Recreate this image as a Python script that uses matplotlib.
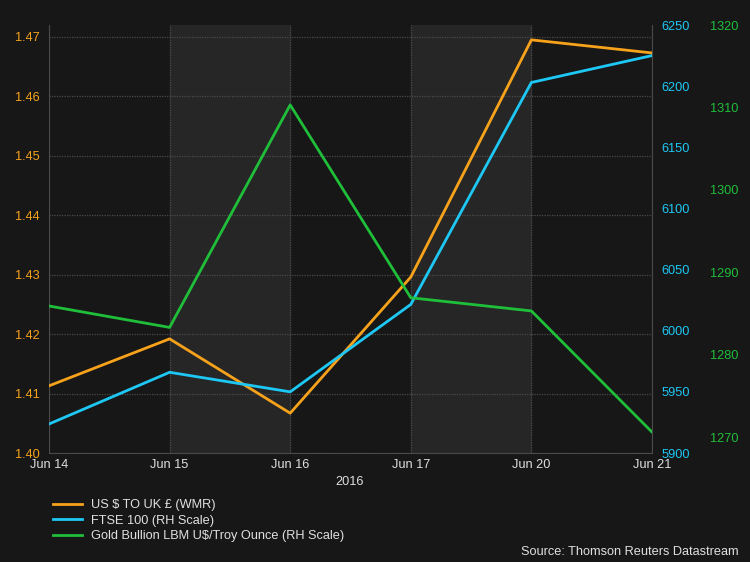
import matplotlib
matplotlib.use("Agg")
import matplotlib.pyplot as plt
import numpy as np

dates = ["Jun 14", "Jun 15", "Jun 16", "Jun 17", "Jun 20", "Jun 21"]
usd_gbp = [1.4113, 1.4192, 1.4067, 1.4296, 1.4695, 1.4673]
ftse = [5923.7, 5966.0, 5950.0, 6021.5, 6203.0, 6225.0]
gold = [1285.9, 1283.3, 1310.3, 1286.9, 1285.3, 1270.6]

bg = "#171717"
band = "#262626"
grid_c = "#4a4a4a"
txt_c = "#e0e0e0"
c_orange = "#f7a21b"
c_blue = "#1ec8f5"
c_green = "#1fbf3a"

plt.rcParams['font.family'] = ['Liberation Sans', 'DejaVu Sans']
fs = 9.2

fig = plt.figure(figsize=(7.5, 5.62), dpi=100, facecolor=bg)
ax = fig.add_axes((49/750, 1-453/562, (652-49)/750, (453-25)/562))
ax.set_facecolor(bg)
x = np.arange(len(dates))

# alternating shaded bands
for i in (1, 3):
    ax.axvspan(x[i], x[i+1], color=band, zorder=0)

ax.set_xlim(x[0], x[-1])
ax.set_ylim(1.40, 1.472)
ax.set_yticks([1.40, 1.41, 1.42, 1.43, 1.44, 1.45, 1.46, 1.47])
ax.set_yticklabels(["%.2f" % v for v in ax.get_yticks()])
ax.set_xticks(x)
ax.set_xticklabels(dates)
ax.grid(True, color=grid_c, linestyle=(0, (1, 1)), linewidth=0.9)
ax.tick_params(axis='y', colors=c_orange, labelsize=fs, length=0, pad=7)
ax.tick_params(axis='x', colors=txt_c, labelsize=fs, length=0, pad=4)
for s in ax.spines.values():
    s.set_color(grid_c)
ax.spines['top'].set_visible(False)

ax2 = ax.twinx()
ax2.set_ylim(5900, 6250)
ax2.set_yticks(np.arange(5900, 6251, 50))
ax2.tick_params(axis='y', colors=c_blue, labelsize=fs, length=0, pad=6.5)
for s in ax2.spines.values():
    s.set_visible(False)

ax3 = ax.twinx()
ax3.set_ylim(1268.06, 1320)
ax3.set_yticks(np.arange(1270, 1321, 10))
ax3.spines['right'].set_position(('outward', 36))
ax3.tick_params(axis='y', colors=c_green, labelsize=fs, length=0, pad=6)
for s in ax3.spines.values():
    s.set_visible(False)

l1, = ax.plot(x, usd_gbp, color=c_orange, lw=2, label="US $ TO UK £ (WMR)", zorder=3)
l2, = ax2.plot(x, ftse, color=c_blue, lw=2, label="FTSE 100 (RH Scale)", zorder=3)
l3, = ax3.plot(x, gold, color=c_green, lw=2, label="Gold Bullion LBM U$/Troy Ounce (RH Scale)", zorder=3)

fig.text(350/750, 1-482/562, "2016", color=txt_c, fontsize=fs, ha='center', va='center')

leg = fig.legend(handles=[l1, l2, l3], loc='upper left', bbox_to_anchor=(53/750, 1-499/562),
                 frameon=False, fontsize=fs, labelcolor=txt_c, handlelength=2.3,
                 handletextpad=0.65, labelspacing=0.28, borderpad=0, borderaxespad=0)

fig.text(739/750, 1-552/562, "Source: Thomson Reuters Datastream", color=txt_c,
         fontsize=fs, ha='right', va='center')

fig.savefig("out.png", dpi=100, facecolor=bg)
